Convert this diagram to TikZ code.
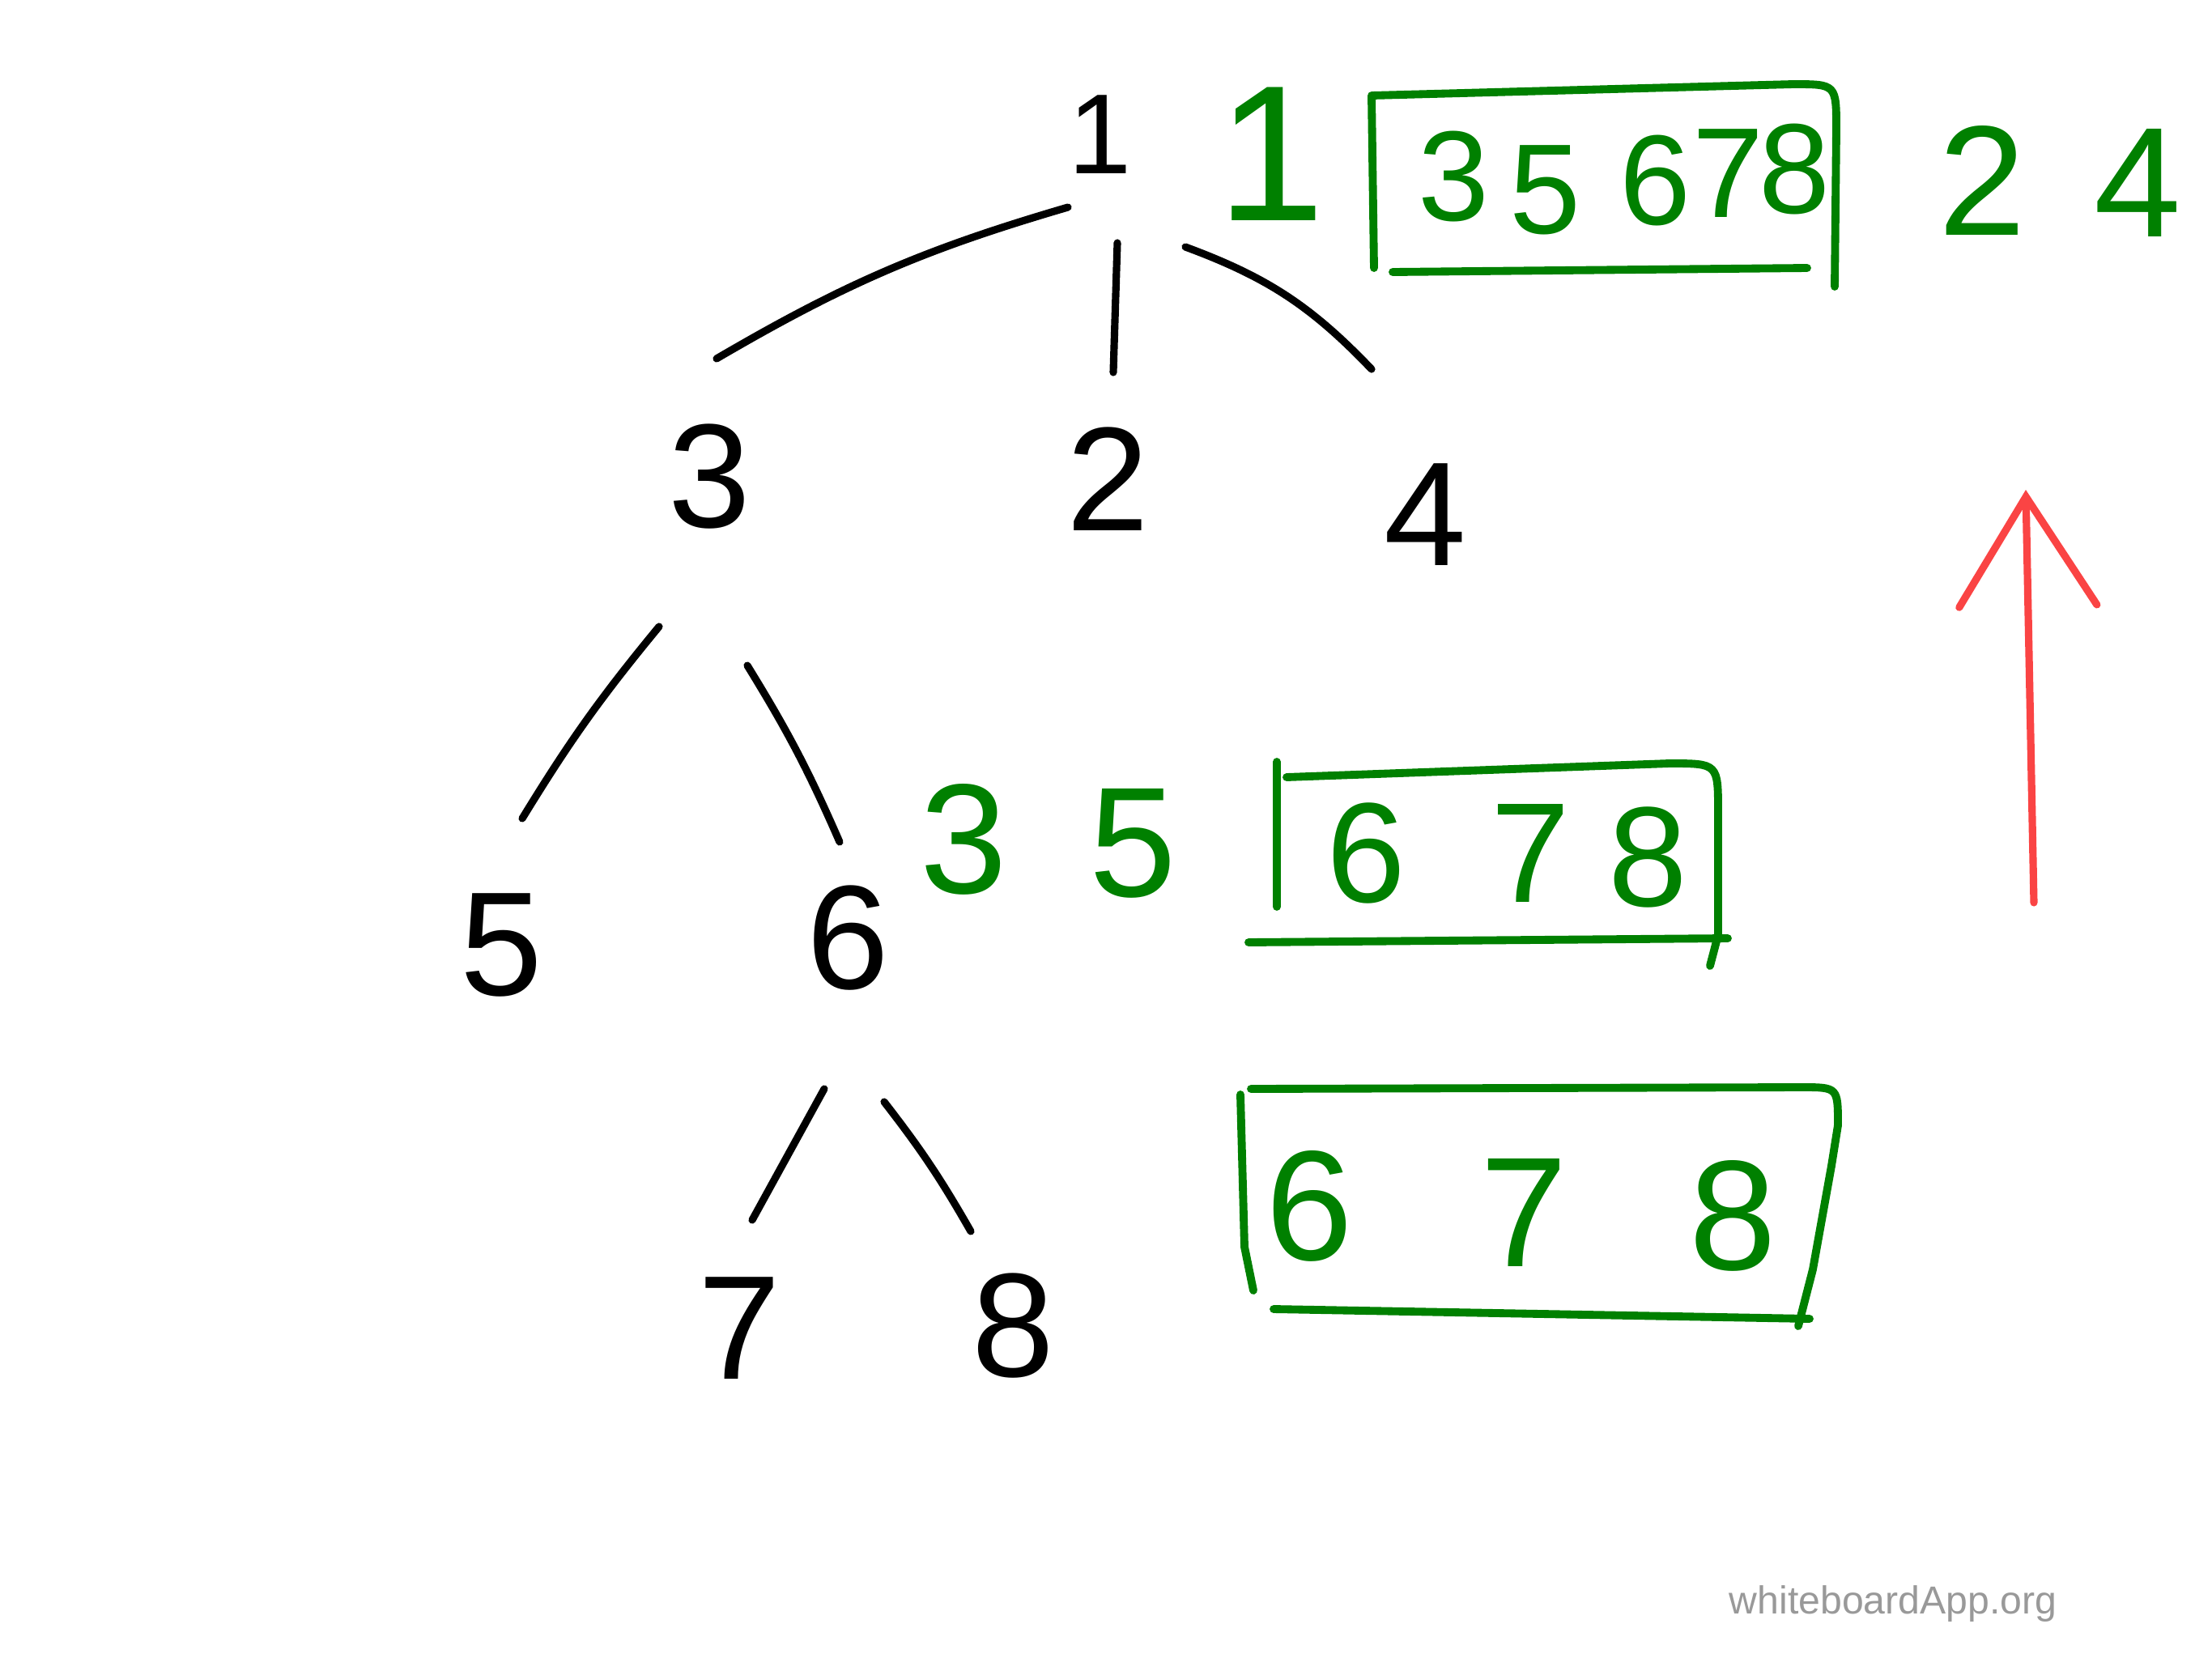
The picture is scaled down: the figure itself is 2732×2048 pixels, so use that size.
\documentclass[tikz,border=0pt]{standalone}
\usepackage{fontspec}
\setmainfont{Liberation Sans}
\usetikzlibrary{arrows.meta}
\definecolor{inkgreen}{RGB}{0,128,0}
\definecolor{inkred}{RGB}{250,68,68}
\definecolor{markgray}{RGB}{153,153,153}

\begin{document}
\begin{tikzpicture}[x=0.01cm, y=-0.01cm,
    tnode/.style={inner sep=0pt, font=\fontsize{52}{60}\selectfont},
    gnum/.style={inner sep=0pt, text=inkgreen},
    edge/.style={line width=2.6pt, line cap=round, line join=round},
    gbox/.style={draw=inkgreen, line width=2.8pt, line cap=round, line join=round}
]

\useasboundingbox (0,0) rectangle (2732,2048);

% Tree in black
\node[tnode, font=\fontsize{40}{48}\selectfont] (n1) at (1359,166) {1};
\node[tnode] (n3) at (876,589) {3};
\node[tnode] (n2) at (1368,592) {2};
\node[tnode] (n4) at (1760,636) {4};
\node[tnode] (n5) at (619,1167) {5};
\node[tnode] (n6) at (1047,1159) {6};
\node[tnode] (n7) at (913,1641) {7};
\node[tnode] (n8) at (1251,1638) {8};

% Branches
\draw[edge] ([shift={(-40,90)}]n1.center) to[bend right=7] ([shift={(9,-146)}]n3.center);
\draw[edge] ([shift={(21,134)}]n1.center) -- ([shift={(7,-132)}]n2.center);
\draw[edge] ([shift={(105,139)}]n1.center) to[bend left=13] ([shift={(-66,-180)}]n4.center);
\draw[edge] ([shift={(-62,185)}]n3.center) to[bend right=4] ([shift={(26,-156)}]n5.center);
\draw[edge] ([shift={(47,233)}]n3.center) to[bend left=4] ([shift={(-10,-119)}]n6.center);
\draw[edge] ([shift={(-29,186)}]n6.center) -- ([shift={(16,-134)}]n7.center);
\draw[edge] ([shift={(45,202)}]n6.center) to[bend left=4] ([shift={(-52,-117)}]n8.center);

% First row: visited, queue, left over
\node[gnum, font=\fontsize{68}{76}\selectfont] (vis1) at (1570,190) {1};
\draw[gbox] (1697,331) -- (1694,118) -- (2215,104) .. controls (2268,104) .. (2268,160) -- (2266,354);
\draw[gbox] (1720,336) -- (2232,331);
\node[gnum, font=\fontsize{45}{52}\selectfont] (q13) at (1795,218) {3};
\node[gnum, font=\fontsize{45}{52}\selectfont] (q15) at (1908,235) {5};
\node[gnum, font=\fontsize{45}{52}\selectfont] (q16) at (2044,223) {6};
\node[gnum, font=\fontsize{45}{52}\selectfont] (q17) at (2134,214) {7};
\node[gnum, font=\fontsize{45}{52}\selectfont] (q18) at (2216,209) {8};
\node[gnum, font=\fontsize{55}{62}\selectfont] (r2) at (2448,223) {2};
\node[gnum, font=\fontsize{55}{62}\selectfont] (r4) at (2640,226) {4};

% Second row
\node[gnum, font=\fontsize{55}{62}\selectfont] (vis3) at (1190,1037) {3};
\node[gnum, font=\fontsize{55}{62}\selectfont] (vis5) at (1399,1042) {5};
\draw[gbox] (1577,1120) -- (1577,941);
\draw[gbox] (1589,960) -- (2062,943) .. controls (2122,943) .. (2122,1003) -- (2122,1155) -- (2112,1193);
\draw[gbox] (1542,1164) -- (2134,1159);
\node[gnum, font=\fontsize{50}{58}\selectfont] (q26) at (1687,1054) {6};
\node[gnum, font=\fontsize{50}{58}\selectfont] (q27) at (1890,1054) {7};
\node[gnum, font=\fontsize{50}{58}\selectfont] (q28) at (2035,1059) {8};

% Third row
\draw[gbox] (1548,1594) -- (1537,1540) -- (1532,1352);
\draw[gbox] (1545,1345) -- (2225,1343) .. controls (2270,1343) .. (2270,1390) -- (2262,1440) -- (2239,1568) -- (2221,1638);
\draw[gbox] (1573,1617) -- (2235,1629);
\node[gnum, font=\fontsize{55}{62}\selectfont] (q36) at (1617,1490) {6};
\node[gnum, font=\fontsize{55}{62}\selectfont] (q37) at (1882,1498) {7};
\node[gnum, font=\fontsize{55}{62}\selectfont] (q38) at (2140,1502) {8};

% Red arrow
\coordinate (arrowtail) at (2512,1115);
\coordinate (arrowhead) at (2502,605);
\draw[line width=2.6pt, line cap=round, draw=inkred,
      -{Straight Barb[length=1.35cm, width=1.7cm, line cap=round]}] (arrowtail) -- (arrowhead);

% Watermark
\node[text=markgray, font=\fontsize{13.7}{16}\selectfont] (mark) at (2338,1981) {whiteboardApp.org};

\end{tikzpicture}
\end{document}
